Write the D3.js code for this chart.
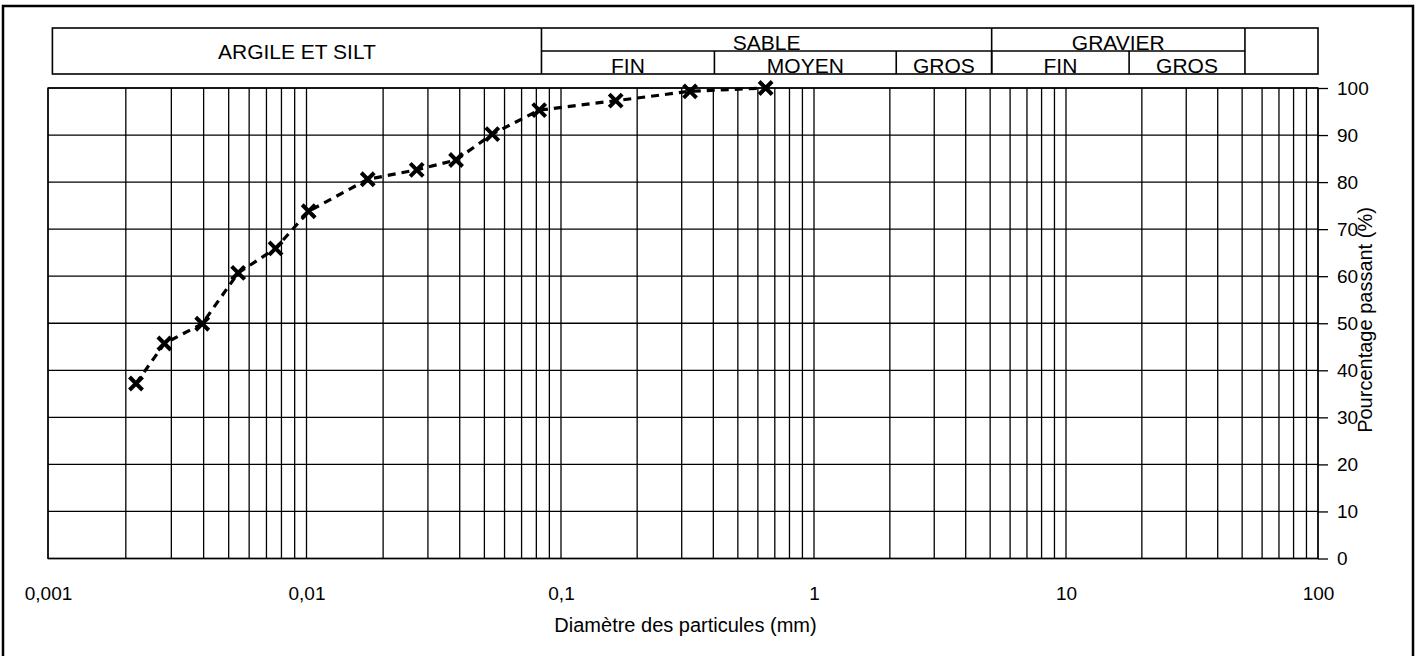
<!DOCTYPE html>
<html>
<head>
<meta charset="utf-8">
<script src="https://cdn.jsdelivr.net/npm/d3@7"></script>
<style>
  html, body { margin: 0; padding: 0; background: #fff; }
  svg { display: block; }
  text { font-family: Arial, "Liberation Sans", sans-serif; fill: #000; }
</style>
</head>
<body>
<svg id="chart" width="1422" height="656"></svg>
<script>
// ---------- data ----------
const diameters = [0.00219, 0.00282, 0.00395, 0.00544, 0.00759, 0.0102, 0.0174, 0.0271, 0.0387, 0.0537, 0.0821, 0.1645, 0.3236, 0.644];
const passing   = [37.2, 45.7, 49.9, 60.7, 65.9, 73.8, 80.6, 82.6, 84.7, 90.2, 95.3, 97.3, 99.3, 100];

const xTickValues = [0.001, 0.01, 0.1, 1, 10, 100];
const xTickLabels = ["0,001", "0,01", "0,1", "1", "10", "100"];
const yTickValues = [0, 10, 20, 30, 40, 50, 60, 70, 80, 90, 100];

// header classification table (grain size limits, mm)
const topZones  = ["ARGILE ET SILT", "SABLE", "GRAVIER", ""];
const topBounds = [0.00104, 0.0838, 5.07, 51.3, 100];
const subZones  = ["FIN", "MOYEN", "GROS", "FIN", "GROS"];
const subBounds = [0.0838, 0.404, 2.12, 5.07, 17.8, 51.3];

const xTitle = "Diamètre des particules (mm)";
const yTitle = "Pourcentage passant (%)";

// ---------- layout ----------
const svg = d3.select("#chart");
const plotTop = 88, plotBottom = 558.5;
const tableTop = 28, tableMid = 51, tableBottom = 74;
const FONT = "Arial, 'Liberation Sans', sans-serif";

const x = d3.scaleLog()
  .domain([0.001, 0.01, 0.1, 1, 10, 100])
  .range([48, 306.5, 561, 814, 1066, 1318]);
const y = d3.scaleLinear().domain([0, 100]).range([plotBottom, plotTop]);

const x0 = x(0.001), x1 = x(100);

// outer frame
svg.append("rect")
  .attr("x", 3).attr("y", 6).attr("width", 1410).attr("height", 700)
  .attr("fill", "none").attr("stroke", "#000").attr("stroke-width", 2.5);

// ---------- header table ----------
const hdr = svg.append("g").attr("stroke", "#000").attr("stroke-width", 1.6).attr("fill", "none");
hdr.append("rect")
  .attr("x", x(topBounds[0])).attr("y", tableTop)
  .attr("width", x(topBounds[topBounds.length - 1]) - x(topBounds[0]))
  .attr("height", tableBottom - tableTop);
hdr.selectAll("line.tv").data(topBounds.slice(1, -1)).join("line")
  .attr("x1", d => x(d)).attr("x2", d => x(d))
  .attr("y1", tableTop).attr("y2", tableBottom);
hdr.append("line")
  .attr("x1", x(subBounds[0])).attr("x2", x(subBounds[subBounds.length - 1]))
  .attr("y1", tableMid).attr("y2", tableMid);
hdr.selectAll("line.sv").data(subBounds.slice(1, -1)).join("line")
  .attr("x1", d => x(d)).attr("x2", d => x(d))
  .attr("y1", tableMid).attr("y2", tableBottom);

const topCells = topZones.map((t, i) => ({ t, a: topBounds[i], b: topBounds[i + 1], full: (i === 0 || i === topZones.length - 1) }));
svg.selectAll("text.top").data(topCells).join("text")
  .attr("x", d => (x(d.a) + x(d.b)) / 2)
  .attr("y", d => d.full ? 58.5 : 50)
  .attr("text-anchor", "middle")
  .attr("font-size", 21)
  .text(d => d.t);

const subCells = subZones.map((t, i) => ({ t, a: subBounds[i], b: subBounds[i + 1] }));
svg.selectAll("text.sub").data(subCells).join("text")
  .attr("x", d => (x(d.a) + x(d.b)) / 2)
  .attr("y", 72.5)
  .attr("text-anchor", "middle")
  .attr("font-size", 21)
  .text(d => d.t);

// ---------- grid ----------
const grid = svg.append("g").attr("stroke", "#000").attr("stroke-width", 1.3);
grid.selectAll("line.vx").data(x.ticks()).join("line")
  .attr("x1", d => x(d)).attr("x2", d => x(d))
  .attr("y1", plotTop).attr("y2", plotBottom);
grid.selectAll("line.hy").data(yTickValues).join("line")
  .attr("x1", x0).attr("x2", x1)
  .attr("y1", d => y(d)).attr("y2", d => y(d));
grid.append("rect")
  .attr("x", x0).attr("y", plotTop).attr("width", x1 - x0).attr("height", plotBottom - plotTop)
  .attr("fill", "none");

// ---------- axes ----------
const yAxis = d3.axisRight(y).tickValues(yTickValues).tickSize(10).tickPadding(9);
const gy = svg.append("g").attr("transform", `translate(${x1},0)`).call(yAxis);
gy.select(".domain").remove();
gy.selectAll(".tick line").attr("stroke", "#000").attr("stroke-width", 1.3);
gy.selectAll(".tick text").attr("font-size", 19).attr("font-family", FONT).attr("fill", "#000");

const xAxis = d3.axisBottom(x).tickValues(xTickValues).tickSize(0).tickPadding(28)
  .tickFormat((d, i) => xTickLabels[i]);
const gx = svg.append("g").attr("transform", `translate(0,${plotBottom})`).call(xAxis);
gx.select(".domain").remove();
gx.selectAll(".tick text").attr("font-size", 19).attr("font-family", FONT).attr("fill", "#000");

svg.append("text")
  .attr("x", (x(0.1) + x(1)) / 2 - 2).attr("y", 632)
  .attr("text-anchor", "middle").attr("font-size", 20)
  .text(xTitle);

svg.append("text")
  .attr("transform", `translate(1372,320) rotate(-90)`)
  .attr("text-anchor", "middle").attr("font-size", 20)
  .text(yTitle);

// ---------- curve ----------
const pts = diameters.map((d, i) => [d, passing[i]]);
svg.append("path")
  .datum(pts)
  .attr("fill", "none").attr("stroke", "#000")
  .attr("stroke-width", 3.2).attr("stroke-dasharray", "8,6")
  .attr("d", d3.line().x(d => x(d[0])).y(d => y(d[1])));

const s = 6.5;
svg.selectAll("path.mk").data(pts).join("path")
  .attr("fill", "none").attr("stroke", "#000").attr("stroke-width", 4)
  .attr("d", d => {
    const cx = x(d[0]), cy = y(d[1]);
    return `M${cx - s},${cy - s}L${cx + s},${cy + s}M${cx - s},${cy + s}L${cx + s},${cy - s}`;
  });
</script>
</body>
</html>
